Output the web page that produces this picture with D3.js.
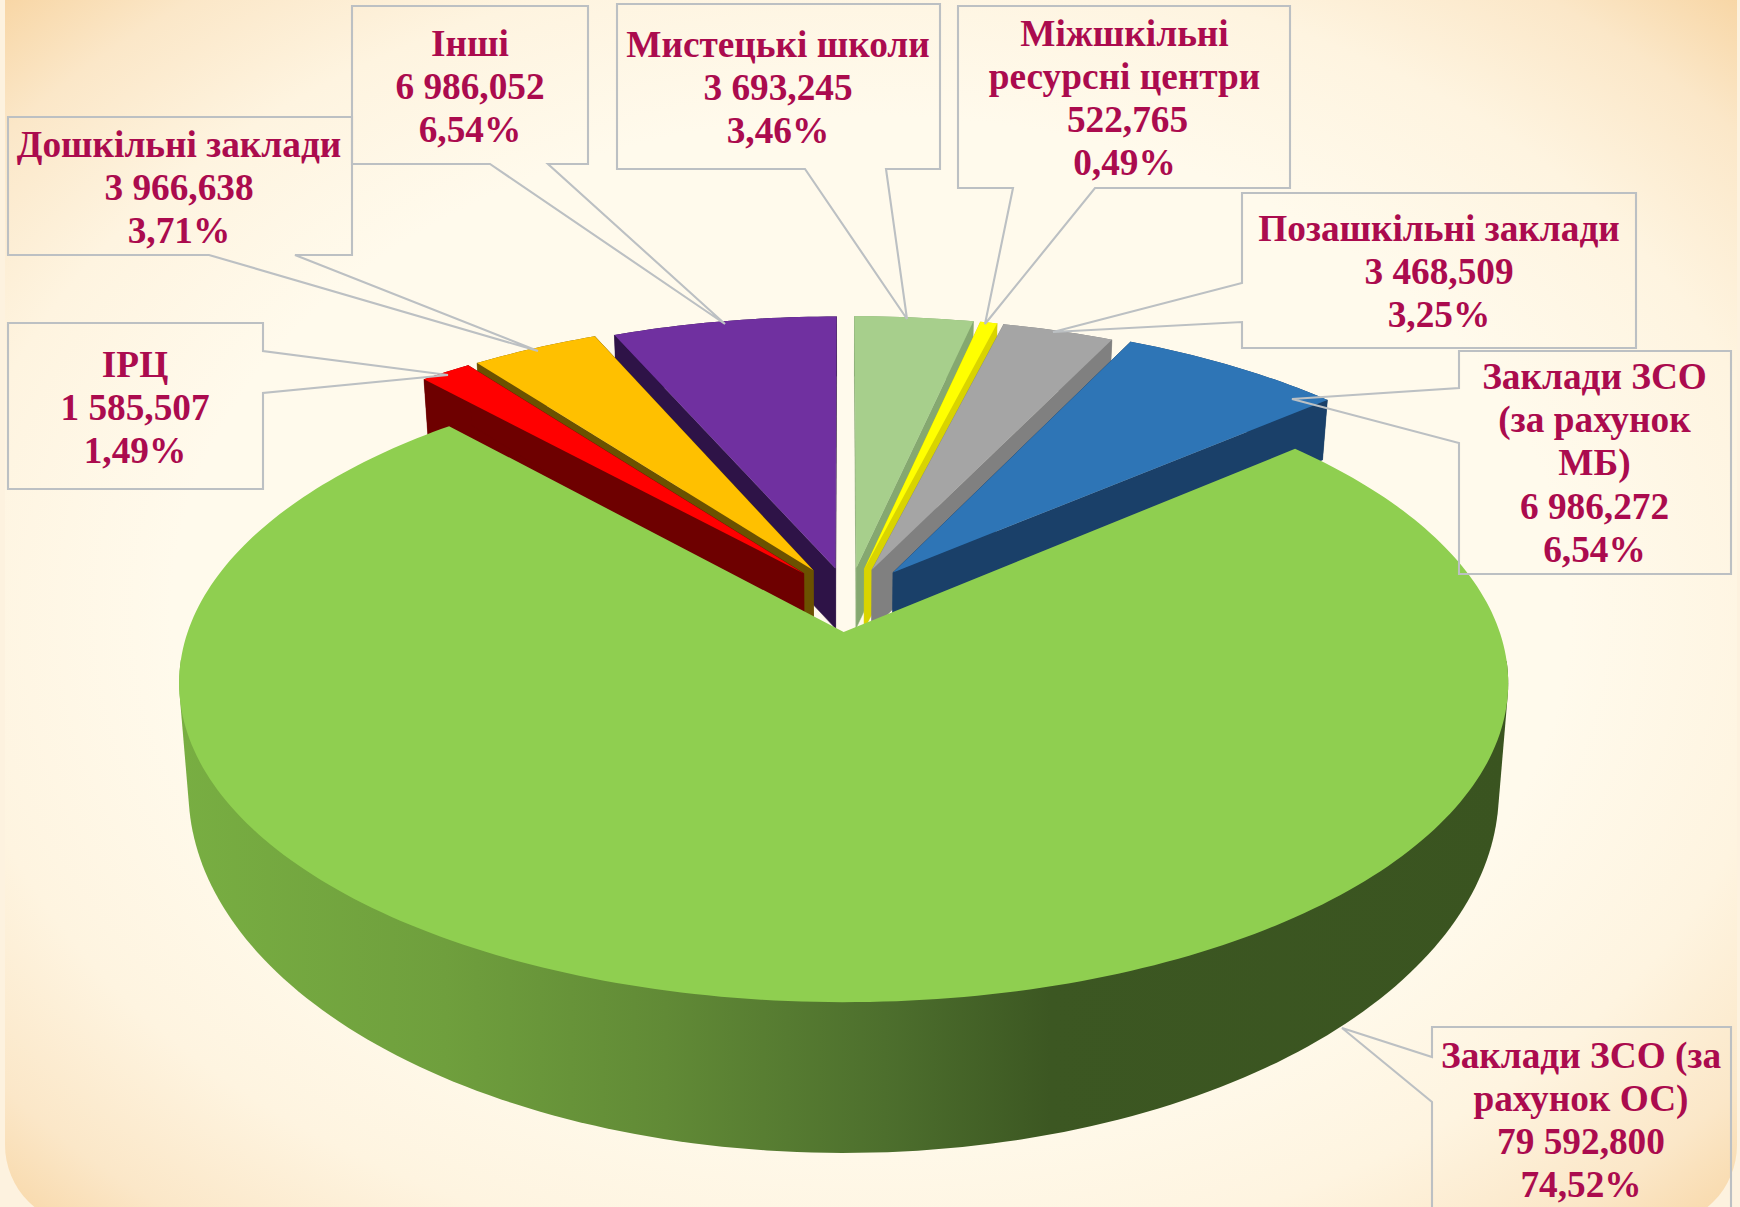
<!DOCTYPE html>
<html><head><meta charset="utf-8">
<script src="https://cdnjs.cloudflare.com/ajax/libs/d3/7.8.5/d3.min.js"></script>
<style>html,body{margin:0;padding:0;background:#fdf2df;overflow:hidden}svg{display:block}</style>
</head><body><svg id="c" width="1740" height="1207"></svg>
<script>
// ---- data (clockwise from 12 o'clock)
const categories = ["Мистецькі школи","Міжшкільні ресурсні центри","Позашкільні заклади","Заклади ЗСО (за рахунок МБ)","Заклади ЗСО (за рахунок ОС)","ІРЦ","Дошкільні заклади","Інші"];
const values = [3693.245,522.765,3468.509,6986.272,79592.8,1585.507,3966.638,6986.052];
const valueLabels = ["3 693,245","522,765","3 468,509","6 986,272","79 592,800","1 585,507","3 966,638","6 986,052"];
const percentLabels = ["3,46%","0,49%","3,25%","6,54%","74,52%","1,49%","3,71%","6,54%"];
const nameLines = [["Мистецькі школи"],["Міжшкільні","ресурсні центри"],["Позашкільні заклади"],["Заклади ЗСО","(за рахунок","МБ)"],["Заклади ЗСО (за","рахунок ОС)"],["ІРЦ"],["Дошкільні заклади"],["Інші"]];
const topColors = ["#a7cf8c","#ffff00","#a5a5a5","#2e75b6","#8fcf50","#ff0000","#ffc000","#7030a0"];
const sideColors = ["#85a870","#d9d400","#808080","#1a4069","#5f8a35","#6e0000","#6b5100","#2e1347"];
const explosions = [.105,.105,.105,.113,.105,.112,.112,.105];
const drawOrder = [7,6,5,0,1,2,3,4];

// ---- callout layout: outline with tip, first baseline, centre x
const callouts = [
 {pts:[[617,4],[940,4],[940,169],[886,169],[907,319],[805,169],[617,169]], cx:778, y:57},
 {pts:[[958,6],[1290,6],[1290,188],[1095,188],[985,324],[1013,188],[958,188]], cx:1124.5, y:45.5, nudge:{2:3}},
 {pts:[[1242,193],[1636,193],[1636,348],[1242,348],[1242,322],[1053,332],[1242,283]], cx:1439, y:241},
 {pts:[[1459,351],[1731,351],[1731,574],[1459,574],[1459,443],[1292,399],[1459,388]], cx:1594.5, y:389},
 {pts:[[1432,1027],[1731,1027],[1731,1240],[1432,1240],[1432,1102],[1342,1028],[1432,1057]], cx:1581, y:1067.5},
 {pts:[[8,323],[263,323],[263,351],[448,375],[263,393],[263,489],[8,489]], cx:135, y:377},
 {pts:[[8,117],[352,117],[352,255],[295,255],[538,351],[209,255],[8,255]], cx:179, y:157},
 {pts:[[352,6],[588,6],[588,164],[548,164],[725,324],[490,164],[352,164]], cx:470, y:55.5}
];

const svg = d3.select("#c");
const defs = svg.append("defs");
const bg = defs.append("radialGradient").attr("id","bg").attr("cx","50%").attr("cy","50%").attr("r","72%");
[[0,"#fffaec"],[.56,"#fffaec"],[.74,"#fef4e0"],[.88,"#fbe7c8"],[1,"#f7d39f"]].forEach(s=>bg.append("stop").attr("offset",s[0]).attr("stop-color",s[1]));
const wg = defs.append("linearGradient").attr("id","wall").attr("gradientUnits","userSpaceOnUse").attr("x1",180).attr("x2",1510).attr("y1",0).attr("y2",0);
[[0,"#78ae42"],[.2,"#6f9f3d"],[.365,"#618a36"],[.53,"#4d6f2d"],[.655,"#3c5722"],[1,"#3a5420"]].forEach(s=>wg.append("stop").attr("offset",s[0]).attr("stop-color",s[1]));
const bp=d3.path();
bp.moveTo(5,-2);bp.lineTo(1737,-2);bp.lineTo(1737,1145);bp.arcTo(1737,1225,1657,1225,80);bp.lineTo(85,1225);bp.arcTo(5,1225,5,1145,80);bp.closePath();
svg.append("path").attr("d",bp.toString()).attr("fill","url(#bg)");

// ---- perspective model
const CX=843, Y0=632;
const topP=(u,v)=>{const d=1-.16*v;return [CX+656*u/d, Y0+311*v/d];};
const frontBottom=(u,v)=>{const d=1-.275*v;return [CX+630*u/d, 691+335*v/d];};
const backBottom=(u,v)=>{const p=topP(u,v);return [CX+(p[0]-CX)*.99, p[1]+60];};
const T=[.0096,-.108], mainNudge=[-.002,.003];
const line=d3.line();
const deg=Math.PI/180;

const arcs=d3.pie().sort(null).value(d=>d).startAngle(0).endAngle(2*Math.PI)(values);
const slices=arcs.map((a,i)=>{
  const m=(a.startAngle+a.endAngle)/2, e=explosions[i];
  const nx=i===4?mainNudge[0]:0, ny=i===4?mainNudge[1]:0;
  const au=T[0]+e*Math.sin(m)+nx, av=T[1]-e*Math.cos(m)+ny;
  const n=Math.max(2,Math.ceil((a.endAngle-a.startAngle)/deg));
  const ts=d3.range(n+1).map(k=>a.startAngle+(a.endAngle-a.startAngle)*k/n);
  const rim=ts.map(t=>[au+Math.sin(t),av-Math.cos(t)]);
  return {i,au,av,rim,ts};
});
const g=svg.append("g");
drawOrder.forEach(i=>{
  const s=slices[i], apex=[s.au,s.av], isMain=i===4;
  const sg=g.append("g");
  if(isMain){
    // outer wall: convex silhouette of the front half of the rim, top and bottom
    const front=s.rim.filter((p,k)=>s.ts[k]>95*deg&&s.ts[k]<265*deg);
    const hull=d3.polygonHull(front.map(p=>topP(...p)).concat(front.map(p=>frontBottom(...p))));
    sg.append("path").attr("d",line(hull)+"Z").attr("fill","url(#wall)");
  } else {
    const wall=s.rim.map(p=>topP(...p)).concat(s.rim.slice().reverse().map(p=>backBottom(...p)));
    sg.append("path").attr("d",line(wall)+"Z").attr("fill",sideColors[i]);
    [s.rim[0],s.rim[s.rim.length-1]].forEach(e=>{
      const quad=[topP(...apex),topP(...e),backBottom(...e),backBottom(...apex)];
      sg.append("path").attr("d",line(quad)+"Z").attr("fill",sideColors[i]).attr("stroke",sideColors[i]).attr("stroke-width",.5);
    });
  }
  const top=[topP(...apex)].concat(s.rim.map(p=>topP(...p)));
  sg.append("path").attr("d",line(top)+"Z").attr("fill",topColors[i]);
});

// ---- callouts
const lg=svg.append("g");
lg.selectAll("path").data(callouts).join("path")
  .attr("d",d=>line(d.pts)+"Z").attr("fill","none").attr("stroke","#bcc0c3").attr("stroke-width",2.1).attr("stroke-linejoin","miter");
const LH=43.2;
const tg=svg.append("g").attr("font-family","'Liberation Serif',serif").attr("font-weight",700).attr("font-size",37.3).attr("fill","#ab0b4e").attr("text-anchor","middle");
callouts.forEach((c,i)=>{
  nameLines[i].concat([valueLabels[i],percentLabels[i]]).forEach((t,k)=>{
    tg.append("text").attr("x",c.cx+((c.nudge&&c.nudge[k])||0)).attr("y",c.y+k*LH).text(t);
  });
});
</script></body></html>
